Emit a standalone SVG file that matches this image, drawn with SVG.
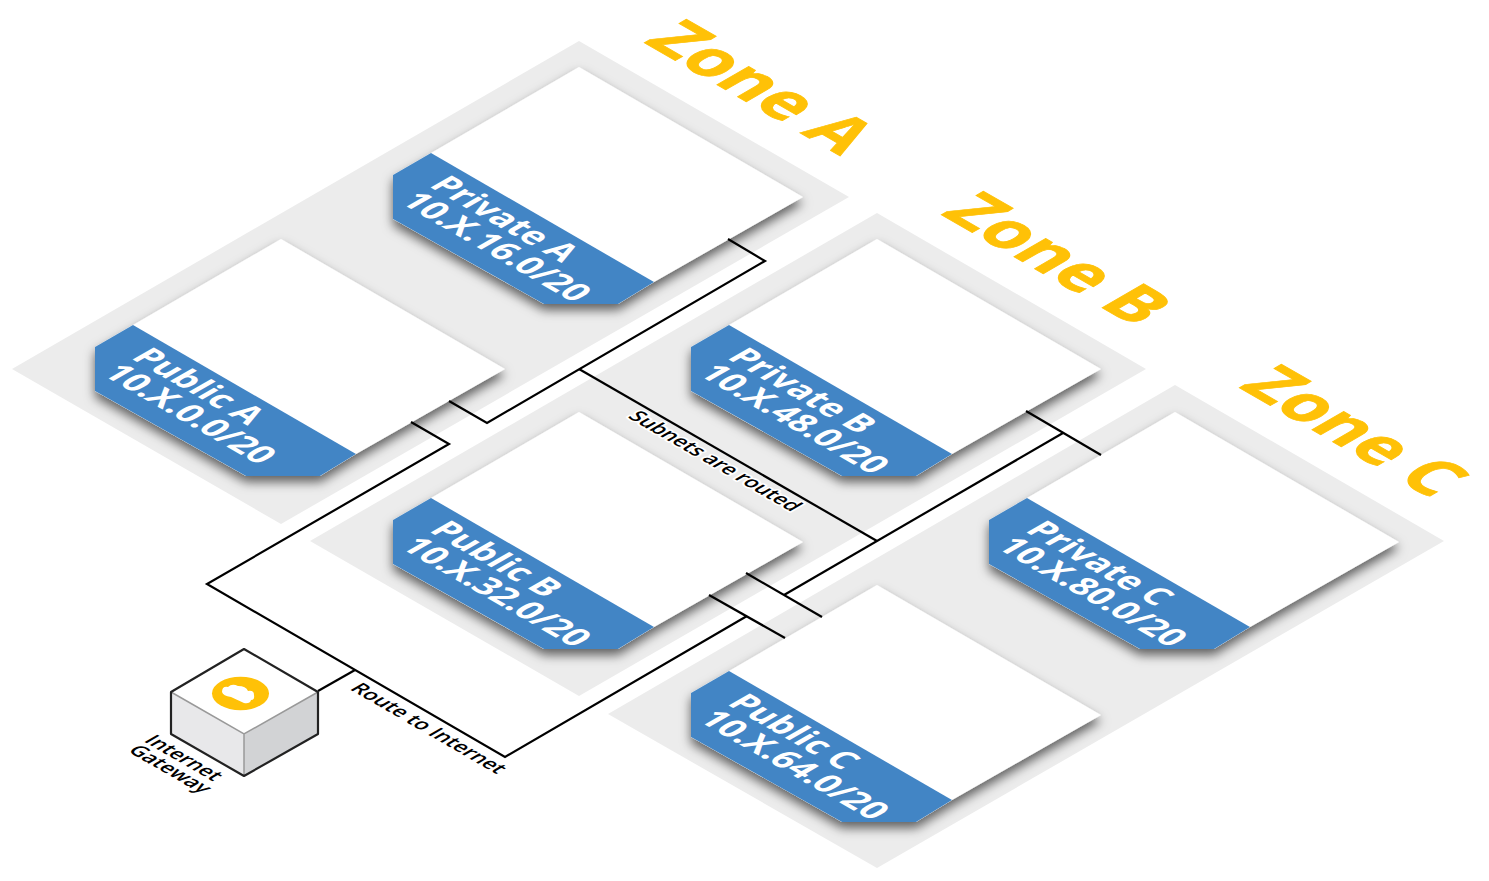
<svg xmlns="http://www.w3.org/2000/svg" width="1489" height="881" viewBox="0 0 1489 881">
<defs>
<filter id="sh" x="-15%" y="-15%" width="130%" height="130%"><feDropShadow dx="0" dy="6" stdDeviation="5.5" flood-color="#000" flood-opacity="0.6"/></filter>
<g id="card"><g filter="url(#sh)"><polygon points="579,67 803,197 654,282 618,304 544,304 393,219 393,175 431,153" fill="#fff"/></g><polygon points="431,153 393,175 393,219 544,304 618,304 654,282" fill="#4285c5"/></g>
</defs>
<style>
text{font-family:"Open Sans","Noto Sans","Liberation Sans",sans-serif;font-weight:700}
.zone{fill:#ececec}
.zt{fill:#ffc107;font-size:67px;stroke:#ffc107;stroke-width:1px}
.ct{fill:#fff;font-size:34px}
.lb{fill:#000;font-size:20.5px;font-weight:600;stroke:#fff;stroke-width:4px;paint-order:stroke;stroke-linejoin:round}
.c{fill:none;stroke:#000;stroke-width:2.2}
</style>
<g id="zone-a"><polygon class="zone" points="579,41 849,197 281,524 12,369"/><text class="zt" transform="matrix(.866,.5,-.866,.5,643,42)">Zone A</text></g>
<g id="zone-b"><polygon class="zone" points="877,213 1146,369 579,696 310,541"/><text class="zt" transform="matrix(.866,.5,-.866,.5,940,214)">Zone B</text></g>
<g id="zone-c"><polygon class="zone" points="1175,385 1444,541 877,868 608,714"/><text class="zt" transform="matrix(.866,.5,-.866,.5,1238,387)">Zone C</text></g>
<g id="private-a"><use href="#card"/><text class="ct" transform="matrix(.866,.5,-.866,.5,428,186)">Private A</text><text class="ct" transform="matrix(.866,.5,-.866,.5,399,202)">10.X.16.0/20</text></g>
<g id="public-a" transform="translate(-298,172)"><use href="#card"/><text class="ct" transform="matrix(.866,.5,-.866,.5,428,186)">Public A</text><text class="ct" transform="matrix(.866,.5,-.866,.5,399,202)">10.X.0.0/20</text></g>
<g id="private-b" transform="translate(298,172)"><use href="#card"/><text class="ct" transform="matrix(.866,.5,-.866,.5,428,186)">Private B</text><text class="ct" transform="matrix(.866,.5,-.866,.5,399,202)">10.X.48.0/20</text></g>
<g id="public-b" transform="translate(0,345)"><use href="#card"/><text class="ct" transform="matrix(.866,.5,-.866,.5,428,186)">Public B</text><text class="ct" transform="matrix(.866,.5,-.866,.5,399,202)">10.X.32.0/20</text></g>
<g id="private-c" transform="translate(596,345)"><use href="#card"/><text class="ct" transform="matrix(.866,.5,-.866,.5,428,186)">Private C</text><text class="ct" transform="matrix(.866,.5,-.866,.5,399,202)">10.X.80.0/20</text></g>
<g id="public-c" transform="translate(298,518)"><use href="#card"/><text class="ct" transform="matrix(.866,.5,-.866,.5,428,186)">Public C</text><text class="ct" transform="matrix(.866,.5,-.866,.5,399,202)">10.X.64.0/20</text></g>
<g id="connectors">
<path class="c" d="M728,239 L765,261 L487,423 L449,401"/>
<path class="c" d="M411,422 L449,444 L207,584 L505,757 L747,616"/>
<path class="c" d="M709,595 L785,638"/>
<path class="c" d="M746,573 L822,617"/>
<path class="c" d="M784,595 L1063,433"/>
<path class="c" d="M1026,411 L1101,455"/>
<path class="c" d="M579,369 L877,541"/>
<path class="c" d="M318,691 L355,670"/>
</g>
<text class="lb" transform="matrix(.866,.5,-.866,.5,627,417)">Subnets are routed</text>
<text class="lb" transform="matrix(.866,.5,-.866,.5,349,689)">Route to Internet</text>
<g id="internet-gateway">
<polygon points="171,692 244,734 244,776 171,734" fill="#e8e8ea"/>
<polygon points="318,692 244,734 244,776 318,734" fill="#d2d3d5"/>
<polygon points="244,649 318,692 244,734 171,692" fill="#fff"/>
<path d="M171,692 L244,734 L318,692 M244,734 V776" fill="none" stroke="#999" stroke-width="1.5"/>
<path d="M244,649 L318,692 V734 L244,776 L171,734 V692 Z" fill="none" stroke="#222" stroke-width="2.2" stroke-linejoin="round"/>
<ellipse cx="240.5" cy="693.5" rx="28.5" ry="16.7" fill="#ffc107"/>
<path d="M222,692 Q222,686 228,687 Q232,683 238,686 Q246,686 248,691 Q254,690 254,695 Q255,700 251,700 Q250,704 244,703 L231,697 Q223,696 222,692 Z" fill="#fff"/>
<text class="lb" style="stroke:none" transform="matrix(.866,.5,-.866,.5,143,741)">Internet</text>
<text class="lb" style="stroke:none" transform="matrix(.866,.5,-.866,.5,127,751)">Gateway</text>
</g>
</svg>
